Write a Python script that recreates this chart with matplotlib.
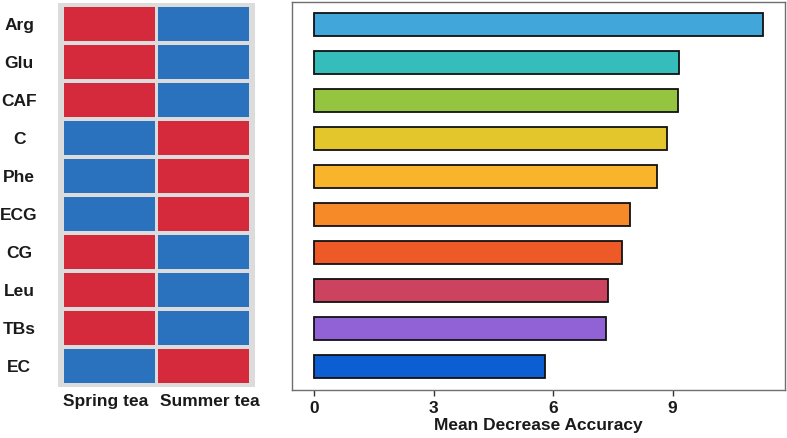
import matplotlib
matplotlib.use("Agg")
import matplotlib.pyplot as plt

# ---- data ----
features = ["Arg", "Glu", "CAF", "C", "Phe", "ECG", "CG", "Leu", "TBs", "EC"]
groups = ["Spring tea", "Summer tea"]
# 1 = high (red), 0 = low (blue)
spring_high = [1, 1, 1, 0, 0, 0, 1, 1, 1, 0]
summer_high = [0, 0, 0, 1, 1, 1, 0, 0, 0, 1]
mda = [11.26, 9.16, 9.14, 8.85, 8.62, 7.93, 7.74, 7.39, 7.32, 5.79]
bar_colors = ["#41a6da", "#35bdbb", "#95c440", "#e2c62c", "#f8b42b",
              "#f68a29", "#ee5a27", "#cc4360", "#9062d6", "#0c5ed2"]
xticks = [0, 3, 6, 9]

plt.rcParams["font.family"] = ["Liberation Sans", "DejaVu Sans"]
plt.rcParams["font.weight"] = "bold"

W, H = 787, 438
fig = plt.figure(figsize=(W / 100, H / 100), dpi=100)

RED = "#d42a3b"
BLUE = "#2a72bd"
GREY = "#dcdcdc"
TXT = "#1a1a1a"
FS = 12.5

n = len(features)
ypos = [n - i for i in range(n)]  # Arg on top

# ---- heatmap ----
axh = fig.add_axes([58 / W, 1 - 387 / H, 197 / W, 384 / H])
axh.set_facecolor(GREY)
for col, vals in enumerate([spring_high, summer_high]):
    axh.barh(ypos, [0.96] * n, left=col + 0.02, height=0.89,
             color=[RED if v else BLUE for v in vals], linewidth=0)
axh.set_xlim(-0.04, 2.04)
axh.set_ylim(0.45, n + 0.55)
for s in axh.spines.values():
    s.set_visible(False)
axh.set_yticks(ypos)
axh.set_yticklabels(features, fontsize=FS, fontweight="bold", color=TXT)
for lab in axh.get_yticklabels():
    lab.set_ha("center")
axh.tick_params(axis="y", length=0, pad=28)
axh.set_xticks([0.46, 1.56])
axh.set_xticklabels(groups, fontsize=FS, fontweight="bold", color=TXT)
axh.tick_params(axis="x", length=0, pad=5)

# ---- bar chart ----
axb = fig.add_axes([292 / W, 1 - 389.5 / H, 493 / W, 387.5 / H])
axb.barh(ypos, mda, height=0.6, color=bar_colors, edgecolor="#111111",
         linewidth=1.3)
axb.set_xlim(-0.552, 11.82)
axb.set_ylim(0.4, n + 0.6)
axb.set_yticks([])
axb.set_xticks(xticks)
axb.set_xticklabels([str(t) for t in xticks], fontsize=FS, fontweight="bold",
                    color=TXT)
axb.tick_params(axis="x", length=4, width=1, color="#333333", pad=4.5)
for s in axb.spines.values():
    s.set_color("#6e6e6e")
    s.set_linewidth(1.0)
axb.set_xlabel("Mean Decrease Accuracy", fontsize=FS, fontweight="bold",
               color=TXT, labelpad=1.5)

fig.savefig("out.png", dpi=100)
